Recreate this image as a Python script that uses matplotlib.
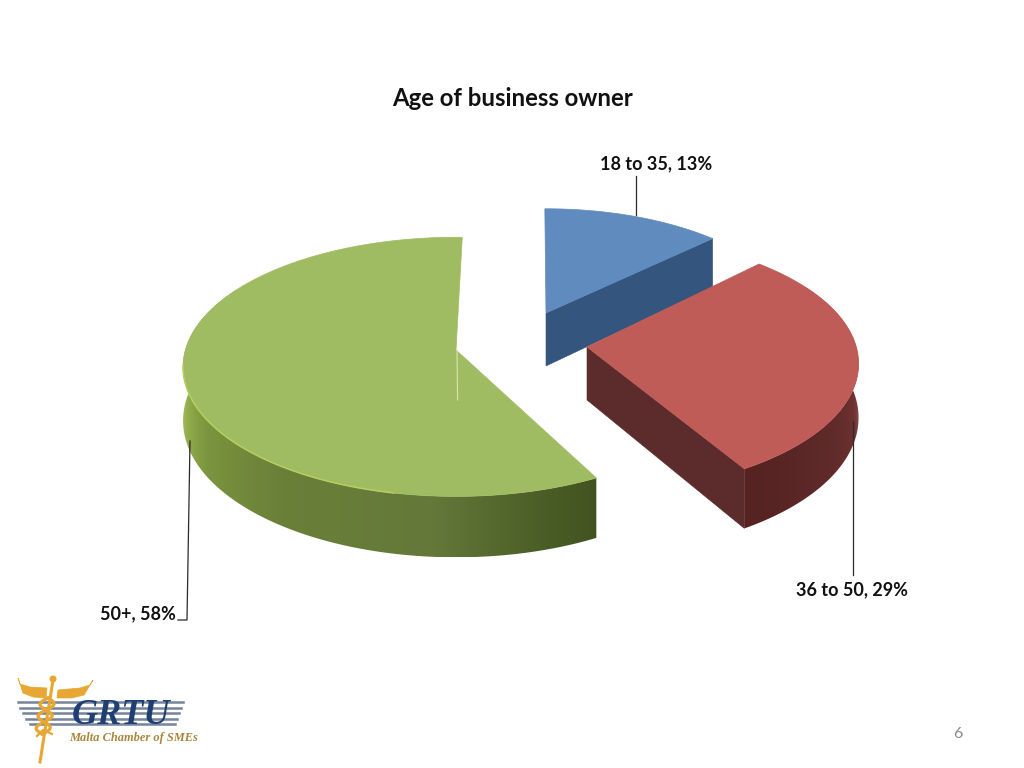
import numpy as np
import matplotlib
matplotlib.use("Agg")
import matplotlib.pyplot as plt
from matplotlib.colors import to_rgb
from matplotlib.patches import Polygon, Circle

# ---- data ----
categories = ["18 to 35", "36 to 50", "50+"]
shares = [13, 29, 58]
title_text = "Age of business owner"
page_number = "6"

# ---- style and geometry ----
top_colors = ["#5f8bbf", "#c05c58", "#a0bc62"]
face_colors = ["#34557d", "#5c2c2c", None]
rim_stops = [
    None,
    ([97, 102, 108, 118, 130, 140, 152],
     ["#9a6464", "#7f4646", "#6f3232", "#642c2c", "#5c2828", "#582424", "#552222"]),
    ([150, 165, 185, 215, 240, 256, 264],
     ["#3f5020", "#4c5f27", "#64793a", "#6a8038", "#7c963f", "#9ab552", "#a8c060"]),
]
rim_ranges = [None, (60, 152), (150, 300)]
apexes = [(546, 313), (587, 347), (456, 350)]
scales = [0.92, 0.99, 0.995]
rotations = [-0.3, -2.5, 1.5]
RX, RY, PERSP, DEPTH = 272, 128, 0.13, 53
label_xy = [(656, 164), (852, 590), (138, 614)]
leaders = [
    ([636, 636], [176, 215]),
    ([853, 853], [421, 575]),
    ([190, 187, 178], [441, 620, 620]),
]


def project(theta_deg, r, apex, scale, drop=0.0):
    t = np.radians(theta_deg)
    X, Y = r * np.sin(t), r * np.cos(t)
    s = 1.0 / (1.0 + PERSP * Y)
    return (apex[0] + scale * RX * X * s,
            apex[1] - scale * RY * Y * s + drop * DEPTH * s)


def lerp_colors(theta, stops):
    angles, cols = stops
    rgb = np.array([to_rgb(c) for c in cols])
    return np.column_stack([np.interp(theta, angles, rgb[:, i]) for i in range(3)])


fig = plt.figure(figsize=(10.24, 7.68), dpi=100, facecolor="white")
ax = fig.add_axes([0, 0, 1, 1])
ax.set_xlim(0, 1024)
ax.set_ylim(768, 0)
ax.axis("off")

plt.rcParams["font.family"] = ["Lato", "DejaVu Sans"]

fractions = np.cumsum([0] + shares) / sum(shares) * 360.0
z = 2.0
for i in range(len(shares)):
    a0 = fractions[i] + rotations[i]
    a1 = fractions[i + 1] + rotations[i]
    apex, sc = apexes[i], scales[i]
    th = np.linspace(a0, a1, 241)
    xt, yt = project(th, 1.0, apex, sc)
    xb, yb = project(th, 1.0, apex, sc, 1.0)

    # outer rim: smooth horizontal gradient clipped to the rim outline
    if rim_ranges[i]:
        lo = max(a0, rim_ranges[i][0])
        hi = min(a1, rim_ranges[i][1])
        tr = np.linspace(lo, hi, 361)
        rx_t, ry_t = project(tr, 1.0, apex, sc)
        rx_b, ry_b = project(tr, 1.0, apex, sc, 1.0)
        outline = np.vstack([np.column_stack([rx_t, ry_t]),
                             np.column_stack([rx_b, ry_b])[::-1]])
        xgrid = np.linspace(outline[:, 0].min(), outline[:, 0].max(), 600)
        # colour follows the screen x between the slice's front corner and its widest point
        far = np.argmax(np.abs(rx_b - apex[0]))
        sel = np.arange(far, len(tr)) if i == 1 else np.arange(0, far + 1)
        order = sel[np.argsort(rx_b[sel])]
        theta_of_x = np.interp(xgrid, rx_b[order], tr[order])
        img = lerp_colors(theta_of_x, rim_stops[i])[None, :, :]
        im = ax.imshow(img, extent=(xgrid[0], xgrid[-1], outline[:, 1].max(), outline[:, 1].min()),
                       aspect="auto", interpolation="bilinear", zorder=z)
        im.set_clip_path(Polygon(outline, closed=True, transform=ax.transData))
    # cut face at the end of the slice
    if face_colors[i]:
        ax_b = project(0.0, 0.0, apex, sc, 1.0)
        ax.add_patch(Polygon([apex, (xt[-1], yt[-1]), (xb[-1], yb[-1]), ax_b],
                             closed=True, fc=face_colors[i], ec=face_colors[i],
                             lw=0.4, zorder=z + 0.1))
    # top surface
    ax.add_patch(Polygon(np.vstack([[apex], np.column_stack([xt, yt])]), closed=True,
                         fc=top_colors[i], ec=top_colors[i], lw=0.5, zorder=z + 0.2))
    z += 1
ax.set_xlim(0, 1024)
ax.set_ylim(768, 0)

# bevel highlight on the green rim
th = np.linspace(190, 262, 80)
gx, gy = project(th + rotations[2], 1.0, apexes[2], scales[2])
ax.plot(gx, gy, color="#b4cf5e", lw=1.1, zorder=z, solid_capstyle="round")
# thin pale sliver at the green slice's centre
ax.plot([457, 457.6], [351, 400], color="#d8e4b4", lw=0.8, zorder=z)

# leader lines
for lx, ly in leaders:
    ax.plot(lx, ly, color="#2a2a2a", lw=0.9, zorder=z + 1)

# texts
ax.text(512, 98, title_text, ha="center", va="center", fontsize=17.2,
        fontweight="bold", color="#111111", zorder=z + 2)
for (cat, val, (tx, ty)) in zip(categories, shares, label_xy):
    ax.text(tx, ty, f"{cat}, {val}%", ha="center", va="center", fontsize=13,
            fontweight="bold", color="#111111", zorder=z + 2)
ax.text(958, 734, page_number, ha="center", va="center", fontsize=11.5,
        color="#8a8a8a", zorder=z + 2)

# ---- logo ----
gold = "#e8a632"
for yy, x0 in zip([702, 707.5, 713, 718.5, 724], [18, 20, 23, 26, 30]):
    ax.plot([x0, 183 - (yy - 702) * 0.35], [yy, yy], color="#74849b", lw=1.8, zorder=z + 1)
ax.add_patch(Polygon([(18, 678), (20, 684), (30, 687), (47, 688), (46, 698),
                      (33, 697), (23, 693)], closed=True, fc=gold, ec=gold, lw=0.5, zorder=z + 2))
ax.add_patch(Polygon([(93, 680), (90, 685), (80, 688), (58, 690), (57, 698),
                      (72, 698), (84, 695)], closed=True, fc=gold, ec=gold, lw=0.5, zorder=z + 2))
ax.plot([53, 40], [680, 762], color=gold, lw=2.2, zorder=z + 2)
ax.add_patch(Circle((53, 679), 2.8, fc=gold, ec=gold, zorder=z + 2))
sy = np.linspace(698, 734, 60)
sx = 48 - (sy - 698) * 0.16
ax.plot(sx + 7 * np.sin((sy - 698) / 36 * 3 * np.pi), sy, color=gold, lw=2.3, zorder=z + 2)
ax.plot(sx - 7 * np.sin((sy - 698) / 36 * 3 * np.pi), sy, color=gold, lw=2.3, zorder=z + 2)
ax.plot([37, 43, 52], [736, 730, 734], color=gold, lw=1.6, zorder=z + 2)
ax.text(121, 715, "GRTU", ha="center", va="center", fontsize=26, fontstyle="italic",
        fontweight="bold", family="Liberation Serif", color="#1f3f73", zorder=z + 3)
ax.text(133.5, 737.5, "Malta Chamber of SMEs", ha="center", va="center", fontsize=8.9,
        fontstyle="italic", fontweight="bold", family="Liberation Serif",
        color="#a8863c", zorder=z + 3)

fig.savefig("out.png", dpi=100, facecolor="white")
